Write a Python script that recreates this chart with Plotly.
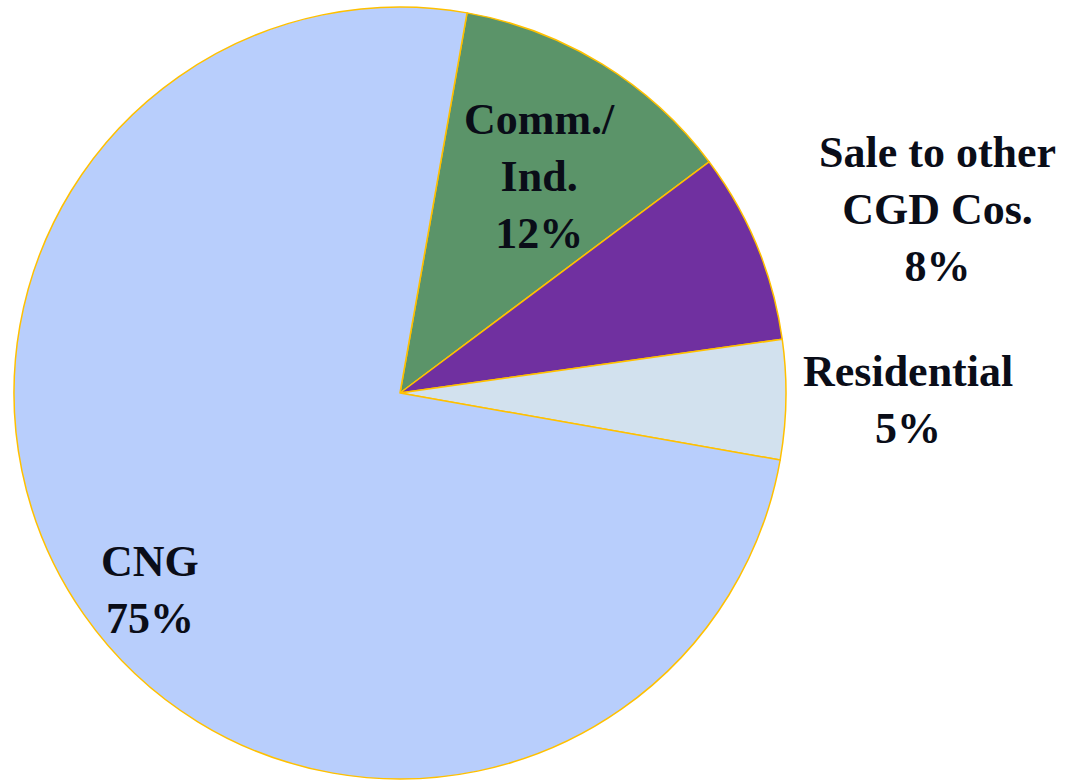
import plotly.graph_objects as go

labels = ["Comm./<br>Ind.", "Sale to other<br>CGD Cos.", "Residential", "CNG"]
values = [12, 8, 5, 75]
colors = ["#5B9469", "#7030A0", "#D2E1EE", "#B8CEFC"]
# label centers in pixels (x, y from top)
label_pos = [(540, 177), (937, 210), (908, 400), (150, 590)]

W, H = 1070, 780
cx, cy, r = 400, 393, 386

fig = go.Figure(go.Pie(
    labels=labels, values=values, sort=False, direction="clockwise", rotation=10,
    marker=dict(colors=colors, line=dict(color="#FFC000", width=1.5)),
    textinfo="none", hoverinfo="label+percent", showlegend=False,
    domain=dict(x=[(cx - r) / W, (cx + r) / W], y=[1 - (cy + r) / H, 1 - (cy - r) / H]),
))

for lab, val, (px, py) in zip(labels, values, label_pos):
    fig.add_annotation(
        text=f"<b>{lab}<br>{val}%</b>", x=px / W, y=1 - py / H, xref="paper", yref="paper",
        xanchor="center", yanchor="middle", showarrow=False, align="center",
        font=dict(family="Liberation Serif", size=44, color="#0A0D18"),
    )

fig.update_layout(width=W, height=H, margin=dict(l=0, r=0, t=0, b=0),
                  paper_bgcolor="white", plot_bgcolor="white")
fig.write_html("out.html")
